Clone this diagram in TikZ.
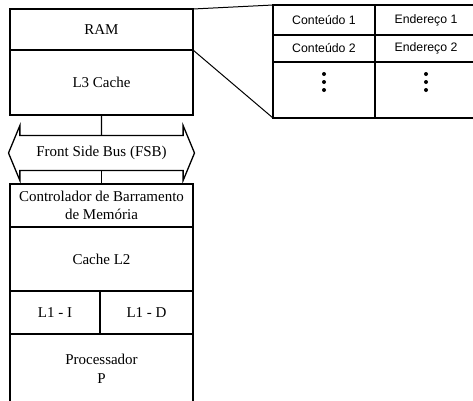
\documentclass[tikz,border=0pt]{standalone}
\usepackage{fontspec}
\setmainfont{Liberation Serif}
\newfontfamily\tabfont{Liberation Sans}
\usepackage{tikz}
\usetikzlibrary{positioning,shapes.arrows}

\tikzset{
  blk/.style={draw,line width=1.3pt,outer sep=0pt,inner sep=0pt,align=center,
    font=\fontsize{15}{18.5}\selectfont},
  cell/.style={draw,line width=1.3pt,outer sep=0pt,inner sep=0pt,
    font=\tabfont\fontsize{12.3}{14}\selectfont},
  bus/.style={double arrow,draw,line width=1.3pt,outer sep=0pt,
    inner xsep=4pt,inner ysep=10pt,double arrow head extend=10pt,
    double arrow tip angle=135,minimum height=186pt,
    font=\fontsize{15}{18}\selectfont},
  link/.style={line width=1.3pt},
  zoomline/.style={line width=1pt}
}

\begin{document}
\begin{tikzpicture}[x=1pt,y=1pt]
  % pixel grid of the figure, y going down as negative
  \useasboundingbox (0,0) rectangle (473,-400);
  \clip (0,0) rectangle (473,-400);

  % memory side: RAM over the L3 cache
  \node[blk,minimum width=183pt,minimum height=41pt] (ram) at (101.5,-29.5) {RAM};
  \node[blk,minimum width=183pt,minimum height=65pt,below=0pt of ram] (lthree) {L3 Cache};

  % the bus
  \node[bus] (fsb) at (101.5,-153) {Front Side Bus (FSB)};

  % processor side, runs off the bottom edge
  \node[blk,minimum width=183pt,minimum height=43pt] (ctrl) at (101.5,-205.5)
    {Controlador de Barramento\\de Memória};
  \node[blk,minimum width=183pt,minimum height=64pt,below=0pt of ctrl] (ltwo) {Cache L2};
  \node[blk,minimum width=90pt,minimum height=43pt,anchor=north west] (lonei) at (ltwo.south west) {L1 - I};
  \node[blk,minimum width=93pt,minimum height=43pt,right=0pt of lonei] (loned) {L1 - D};
  \node[blk,minimum width=183pt,minimum height=70pt,anchor=north west] (proc) at (lonei.south west)
    {Processador\\P};

  \draw[link] (lthree) -- (fsb);
  \draw[link] (fsb) -- (ctrl);

  % zoom into the RAM: content / address table
  \node[cell,minimum width=102pt,minimum height=30pt,anchor=north west] (cont1) at (273,-5) {Conteúdo 1};
  \node[cell,minimum width=102pt,minimum height=30pt,right=0pt of cont1] (end1) {Endereço 1};
  \node[cell,minimum width=102pt,minimum height=27pt,below=0pt of cont1] (cont2) {Conteúdo 2};
  \node[cell,minimum width=102pt,minimum height=27pt,below=0pt of end1] (end2) {Endereço 2};
  \node[cell,minimum width=102pt,minimum height=56pt,below=0pt of cont2] (dots1) {};
  \node[cell,minimum width=102pt,minimum height=56pt,below=0pt of end2] (dots2) {};
  \foreach \d in {0,8,16}{
    \fill ([yshift=\d pt]dots1.center) circle (2);
    \fill ([yshift=\d pt]dots2.center) circle (2);
  }

  \draw[zoomline] (ram.north east) -- (cont1.north west);
  \draw[zoomline] (ram.south east) -- (dots1.south west);
\end{tikzpicture}
\end{document}
